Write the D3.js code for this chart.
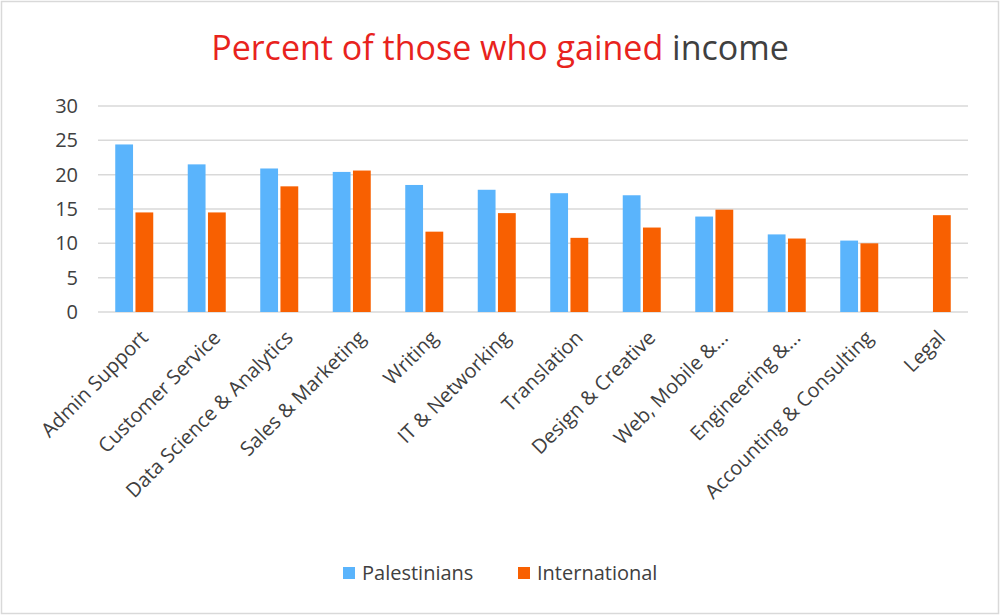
<!DOCTYPE html>
<html>
<head>
<meta charset="utf-8">
<script src="https://cdn.jsdelivr.net/npm/d3@7"></script>
<style>
  body { margin: 0; background: #fff; font-family: "Open Sans", "Noto Sans", sans-serif; }
</style>
</head>
<body>
<script>
var categories = ["Admin Support", "Customer Service", "Data Science & Analytics", "Sales & Marketing",
  "Writing", "IT & Networking", "Translation", "Design & Creative", "Web, Mobile &...",
  "Engineering &...", "Accounting & Consulting", "Legal"];
var palestinians = [24.4, 21.5, 20.9, 20.4, 18.5, 17.8, 17.3, 17.0, 13.9, 11.3, 10.4, null];
var international = [14.5, 14.5, 18.3, 20.6, 11.7, 14.4, 10.8, 12.3, 14.9, 10.7, 10.0, 14.1];
var yTicks = [0, 5, 10, 15, 20, 25, 30];

var W = 1000, H = 615;
var margin = { top: 106, right: 32, bottom: 303, left: 98 },
  width = W - margin.left - margin.right,
  height = H - margin.top - margin.bottom;

var svg = d3.select("body").append("svg").attr("width", W).attr("height", H);

svg.append("rect").attr("x", 1.5).attr("y", 1.5).attr("width", W - 3).attr("height", H - 3)
  .attr("fill", "#fff").attr("stroke", "#d9d9d9").attr("stroke-width", 1.5);

var title = svg.append("text").attr("x", W / 2).attr("y", 60)
  .attr("text-anchor", "middle").style("font-size", "34px");
title.append("tspan").attr("fill", "#e8231d").text("Percent of those who gained ");
title.append("tspan").attr("fill", "#404040").text("income");

var g = svg.append("g").attr("transform", "translate(" + margin.left + "," + margin.top + ")");

var x = d3.scaleBand().domain(categories).range([0, width]);
var x1 = d3.scaleBand().domain(["p", "i"]).range([0, 38]).paddingInner(0.12);
var y = d3.scaleLinear().domain([0, 30]).range([height, 0]);

g.selectAll(".grid").data(yTicks).enter().append("line")
  .attr("x1", 0).attr("x2", width)
  .attr("y1", function (d) { return y(d); }).attr("y2", function (d) { return y(d); })
  .attr("stroke", "#d9d9d9").attr("stroke-width", 1.5);

g.selectAll(".ylab").data(yTicks).enter().append("text")
  .attr("x", -20).attr("y", function (d) { return y(d); }).attr("dy", "0.35em")
  .attr("text-anchor", "end").attr("fill", "#404040").style("font-size", "20px")
  .text(function (d) { return d; });

var off = (x.bandwidth() - 38) / 2;

g.selectAll(".barP").data(categories).enter().filter(function (d, i) { return palestinians[i] != null; })
  .append("rect")
  .attr("x", function (d) { return x(d) + off + x1("p"); })
  .attr("width", x1.bandwidth())
  .attr("y", function (d) { return y(palestinians[categories.indexOf(d)]); })
  .attr("height", function (d) { return height - y(palestinians[categories.indexOf(d)]); })
  .attr("fill", "#5ab4fc");

g.selectAll(".barI").data(categories).enter().append("rect")
  .attr("x", function (d) { return x(d) + off + x1("i"); })
  .attr("width", x1.bandwidth())
  .attr("y", function (d, i) { return y(international[i]); })
  .attr("height", function (d, i) { return height - y(international[i]); })
  .attr("fill", "#f86001");

g.selectAll(".xlab").data(categories).enter().append("text")
  .attr("transform", function (d) {
    return "translate(" + (x(d) + x.bandwidth() / 2 + 10) + "," + (height + 22) + ") rotate(-45)";
  })
  .attr("text-anchor", "end").attr("dy", "0.35em")
  .attr("fill", "#404040").style("font-size", "20px")
  .text(function (d) { return d; });

var legend = svg.append("g").attr("transform", "translate(343,573)");
var items = [["Palestinians", "#5ab4fc", 0], ["International", "#f86001", 175]];
items.forEach(function (it) {
  legend.append("rect").attr("x", it[2]).attr("y", -6).attr("width", 12).attr("height", 12).attr("fill", it[1]);
  legend.append("text").attr("x", it[2] + 19).attr("y", 0).attr("dy", "0.35em")
    .attr("fill", "#404040").style("font-size", "20px").text(it[0]);
});
</script>
</body>
</html>
